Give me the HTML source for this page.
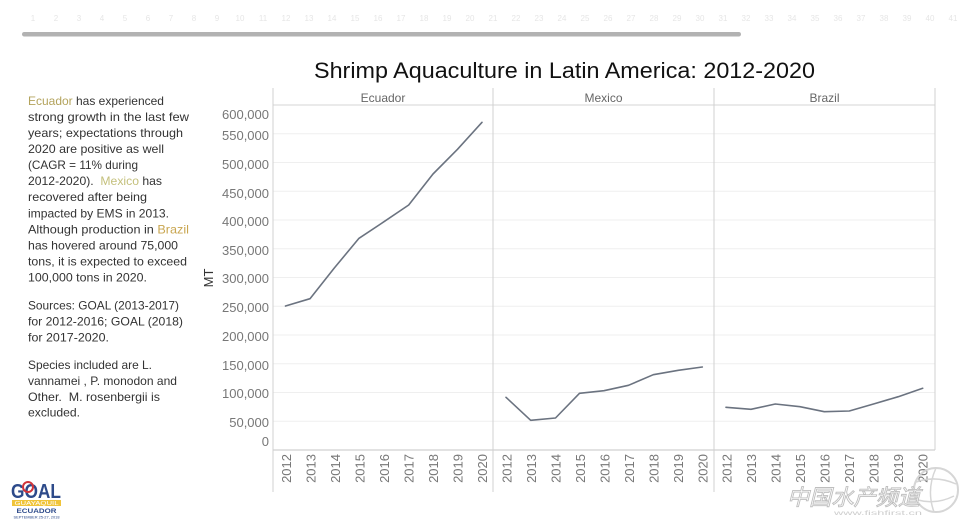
<!DOCTYPE html>
<html>
<head>
<meta charset="utf-8">
<style>
  html,body{margin:0;padding:0;background:#fff;}
  svg{display:block;}
  text{font-family:"Liberation Sans","Noto Sans CJK SC",sans-serif;}
</style>
</head>
<body>
<svg width="960" height="523" viewBox="0 0 960 523" xmlns="http://www.w3.org/2000/svg">
  <rect width="960" height="523" fill="#fff"/>

  <!-- faint top ruler numbers -->
  <g fill="#e6e6e6" font-size="8" text-anchor="middle">
    <text x="33" y="21">1</text><text x="56" y="21">2</text><text x="79" y="21">3</text><text x="102" y="21">4</text>
    <text x="125" y="21">5</text><text x="148" y="21">6</text><text x="171" y="21">7</text><text x="194" y="21">8</text>
    <text x="217" y="21">9</text><text x="240" y="21">10</text><text x="263" y="21">11</text><text x="286" y="21">12</text>
    <text x="309" y="21">13</text><text x="332" y="21">14</text><text x="355" y="21">15</text><text x="378" y="21">16</text>
    <text x="401" y="21">17</text><text x="424" y="21">18</text><text x="447" y="21">19</text><text x="470" y="21">20</text>
    <text x="493" y="21">21</text><text x="516" y="21">22</text><text x="539" y="21">23</text><text x="562" y="21">24</text>
    <text x="585" y="21">25</text><text x="608" y="21">26</text><text x="631" y="21">27</text><text x="654" y="21">28</text>
    <text x="677" y="21">29</text><text x="700" y="21">30</text><text x="723" y="21">31</text><text x="746" y="21">32</text>
    <text x="769" y="21">33</text><text x="792" y="21">34</text><text x="815" y="21">35</text><text x="838" y="21">36</text>
    <text x="861" y="21">37</text><text x="884" y="21">38</text><text x="907" y="21">39</text><text x="930" y="21">40</text>
    <text x="953" y="21">41</text>
  </g>
  <!-- scrollbar -->
  <rect x="22" y="32" width="719" height="4.5" rx="2.2" fill="#b2b2b2"/>

  <!-- title -->
  <text x="314" y="78" font-size="22" fill="#111" textLength="501" lengthAdjust="spacingAndGlyphs">Shrimp Aquaculture in Latin America: 2012-2020</text>

  <!-- gridlines -->
  <g stroke="#efefef" stroke-width="1">
    <line x1="273" y1="421.25" x2="935" y2="421.25"/>
    <line x1="273" y1="392.5" x2="935" y2="392.5"/>
    <line x1="273" y1="363.75" x2="935" y2="363.75"/>
    <line x1="273" y1="335" x2="935" y2="335"/>
    <line x1="273" y1="306.25" x2="935" y2="306.25"/>
    <line x1="273" y1="277.5" x2="935" y2="277.5"/>
    <line x1="273" y1="248.75" x2="935" y2="248.75"/>
    <line x1="273" y1="220" x2="935" y2="220"/>
    <line x1="273" y1="191.25" x2="935" y2="191.25"/>
    <line x1="273" y1="162.5" x2="935" y2="162.5"/>
    <line x1="273" y1="133.75" x2="935" y2="133.75"/>
  </g>

  <!-- header line and frame -->
  <line x1="273" y1="105" x2="935" y2="105" stroke="#d4d4d4" stroke-width="1"/>
  <line x1="273" y1="450" x2="935" y2="450" stroke="#c4c4c4" stroke-width="1"/>
  <g stroke="#d0d0d0" stroke-width="1">
    <line x1="273" y1="88" x2="273" y2="492"/>
    <line x1="493" y1="88" x2="493" y2="492"/>
    <line x1="714" y1="88" x2="714" y2="492"/>
    <line x1="935" y1="88" x2="935" y2="450"/>
  </g>

  <!-- headers -->
  <g font-size="12" fill="#666" text-anchor="middle">
    <text x="383" y="102">Ecuador</text>
    <text x="603.5" y="102">Mexico</text>
    <text x="824.5" y="102">Brazil</text>
  </g>

  <!-- y tick labels -->
  <g font-size="13" fill="#777" text-anchor="end">
    <text x="269" y="119">600,000</text>
    <text x="269" y="140">550,000</text>
    <text x="269" y="169">500,000</text>
    <text x="269" y="198">450,000</text>
    <text x="269" y="226">400,000</text>
    <text x="269" y="255">350,000</text>
    <text x="269" y="283">300,000</text>
    <text x="269" y="312">250,000</text>
    <text x="269" y="341">200,000</text>
    <text x="269" y="370">150,000</text>
    <text x="269" y="398">100,000</text>
    <text x="269" y="427">50,000</text>
    <text x="269" y="446">0</text>
  </g>
  <text transform="translate(213,278) rotate(-90)" font-size="13" fill="#333" text-anchor="middle">MT</text>

  <!-- x tick labels (rotated) -->
  <g font-size="13" fill="#777" text-anchor="end">
    <text transform="translate(291,454) rotate(-90)">2012</text>
    <text transform="translate(315.5,454) rotate(-90)">2013</text>
    <text transform="translate(340,454) rotate(-90)">2014</text>
    <text transform="translate(364.5,454) rotate(-90)">2015</text>
    <text transform="translate(389,454) rotate(-90)">2016</text>
    <text transform="translate(413.5,454) rotate(-90)">2017</text>
    <text transform="translate(438,454) rotate(-90)">2018</text>
    <text transform="translate(462.5,454) rotate(-90)">2019</text>
    <text transform="translate(487,454) rotate(-90)">2020</text>

    <text transform="translate(511.5,454) rotate(-90)">2012</text>
    <text transform="translate(536,454) rotate(-90)">2013</text>
    <text transform="translate(560.5,454) rotate(-90)">2014</text>
    <text transform="translate(585,454) rotate(-90)">2015</text>
    <text transform="translate(609.5,454) rotate(-90)">2016</text>
    <text transform="translate(634,454) rotate(-90)">2017</text>
    <text transform="translate(658.5,454) rotate(-90)">2018</text>
    <text transform="translate(683,454) rotate(-90)">2019</text>
    <text transform="translate(707.5,454) rotate(-90)">2020</text>

    <text transform="translate(731.5,454) rotate(-90)">2012</text>
    <text transform="translate(756,454) rotate(-90)">2013</text>
    <text transform="translate(780.5,454) rotate(-90)">2014</text>
    <text transform="translate(805,454) rotate(-90)">2015</text>
    <text transform="translate(829.5,454) rotate(-90)">2016</text>
    <text transform="translate(854,454) rotate(-90)">2017</text>
    <text transform="translate(878.5,454) rotate(-90)">2018</text>
    <text transform="translate(903,454) rotate(-90)">2019</text>
    <text transform="translate(927.5,454) rotate(-90)">2020</text>
  </g>

  <!-- series -->
  <g fill="none" stroke="#6b7380" stroke-width="1.6" stroke-linejoin="round" stroke-linecap="round">
    <polyline points="285.5,306 310,298.7 334.3,268 359,238.3 384,221.7 408.7,205 433,174 457.5,149.3 482,122.3"/>
    <polyline points="506,397.3 530.7,420.3 555.5,418 579.5,393.3 604,390.7 628.5,385.3 653.3,374.7 678.3,370.3 702.3,367"/>
    <polyline points="726,407.3 751,409.3 775.3,404 800,406.7 824.3,411.7 849.3,411 873.5,404 898.3,396.7 922.7,388.3"/>
  </g>

  <!-- left narrative text -->
  <g font-size="12" fill="#333">
    <text x="28" y="105" textLength="136" lengthAdjust="spacingAndGlyphs"><tspan fill="#b3a35c">Ecuador</tspan> has experienced</text>
    <text x="28" y="121" textLength="161" lengthAdjust="spacingAndGlyphs">strong growth in the last few</text>
    <text x="28" y="137" textLength="155" lengthAdjust="spacingAndGlyphs">years; expectations through</text>
    <text x="28" y="153" textLength="136" lengthAdjust="spacingAndGlyphs">2020 are positive as well</text>
    <text x="28" y="169" textLength="110" lengthAdjust="spacingAndGlyphs">(CAGR = 11% during</text>
    <text x="28" y="185" textLength="134" lengthAdjust="spacingAndGlyphs">2012-2020).&#160; <tspan fill="#c4c07c">Mexico</tspan> has</text>
    <text x="28" y="201" textLength="119" lengthAdjust="spacingAndGlyphs">recovered after being</text>
    <text x="28" y="217.5" textLength="141" lengthAdjust="spacingAndGlyphs">impacted by EMS in 2013.</text>
    <text x="28" y="233.5" textLength="161" lengthAdjust="spacingAndGlyphs">Although production in <tspan fill="#c9a650">Brazil</tspan></text>
    <text x="28" y="249.5" textLength="150" lengthAdjust="spacingAndGlyphs">has hovered around 75,000</text>
    <text x="28" y="265.5" textLength="159" lengthAdjust="spacingAndGlyphs">tons, it is expected to exceed</text>
    <text x="28" y="281.7" textLength="119" lengthAdjust="spacingAndGlyphs">100,000 tons in 2020.</text>

    <text x="28" y="309.3" textLength="151" lengthAdjust="spacingAndGlyphs">Sources: GOAL (2013-2017)</text>
    <text x="28" y="325.5" textLength="155" lengthAdjust="spacingAndGlyphs">for 2012-2016; GOAL (2018)</text>
    <text x="28" y="341.7" textLength="81" lengthAdjust="spacingAndGlyphs">for 2017-2020.</text>

    <text x="28" y="369" textLength="124" lengthAdjust="spacingAndGlyphs">Species included are L.</text>
    <text x="28" y="385" textLength="149" lengthAdjust="spacingAndGlyphs">vannamei , P. monodon and</text>
    <text x="28" y="401" textLength="132" lengthAdjust="spacingAndGlyphs">Other.&#160; M. rosenbergii is</text>
    <text x="28" y="416.7" textLength="52" lengthAdjust="spacingAndGlyphs">excluded.</text>
  </g>

  <!-- GOAL logo -->
  <g>
    <text x="11" y="498" font-size="20" font-weight="bold" fill="#2d4a8a" textLength="50" lengthAdjust="spacingAndGlyphs">GOAL</text>
    <circle cx="28" cy="487" r="5" fill="none" stroke="#d0343a" stroke-width="2"/>
    <rect x="12" y="500" width="49" height="6" fill="#f0c43a"/>
    <text x="36.5" y="505" font-size="5" fill="#fff" text-anchor="middle" textLength="44" lengthAdjust="spacingAndGlyphs">GUAYAQUIL</text>
    <text x="36.5" y="513" font-size="6.5" font-weight="bold" fill="#2d4a8a" text-anchor="middle" textLength="40" lengthAdjust="spacingAndGlyphs">ECUADOR</text>
    <text x="36.5" y="518.5" font-size="3.5" fill="#2d4a8a" text-anchor="middle" textLength="46" lengthAdjust="spacingAndGlyphs">SEPTEMBER 25-27, 2018</text>
  </g>

  <!-- watermark -->
  <g opacity="0.9">
    <circle cx="936" cy="490" r="22" fill="none" stroke="#d2d2d2" stroke-width="2"/>
    <path d="M916 482 Q936 475 956 484 M918 500 Q936 505 954 496 M936 468 Q926 490 934 512" fill="none" stroke="#d2d2d2" stroke-width="1.5"/>
    <text x="787" y="505" font-size="22" fill="#fff" stroke="#b8b8b8" stroke-width="0.9" textLength="133" lengthAdjust="spacingAndGlyphs" font-family="'Noto Sans CJK SC',sans-serif" font-style="italic">中国水产频道</text>
    <text x="834" y="515" font-size="6" fill="#c8c8c8" textLength="88" lengthAdjust="spacingAndGlyphs">www.fishfirst.cn</text>
  </g>
</svg>
</body>
</html>
